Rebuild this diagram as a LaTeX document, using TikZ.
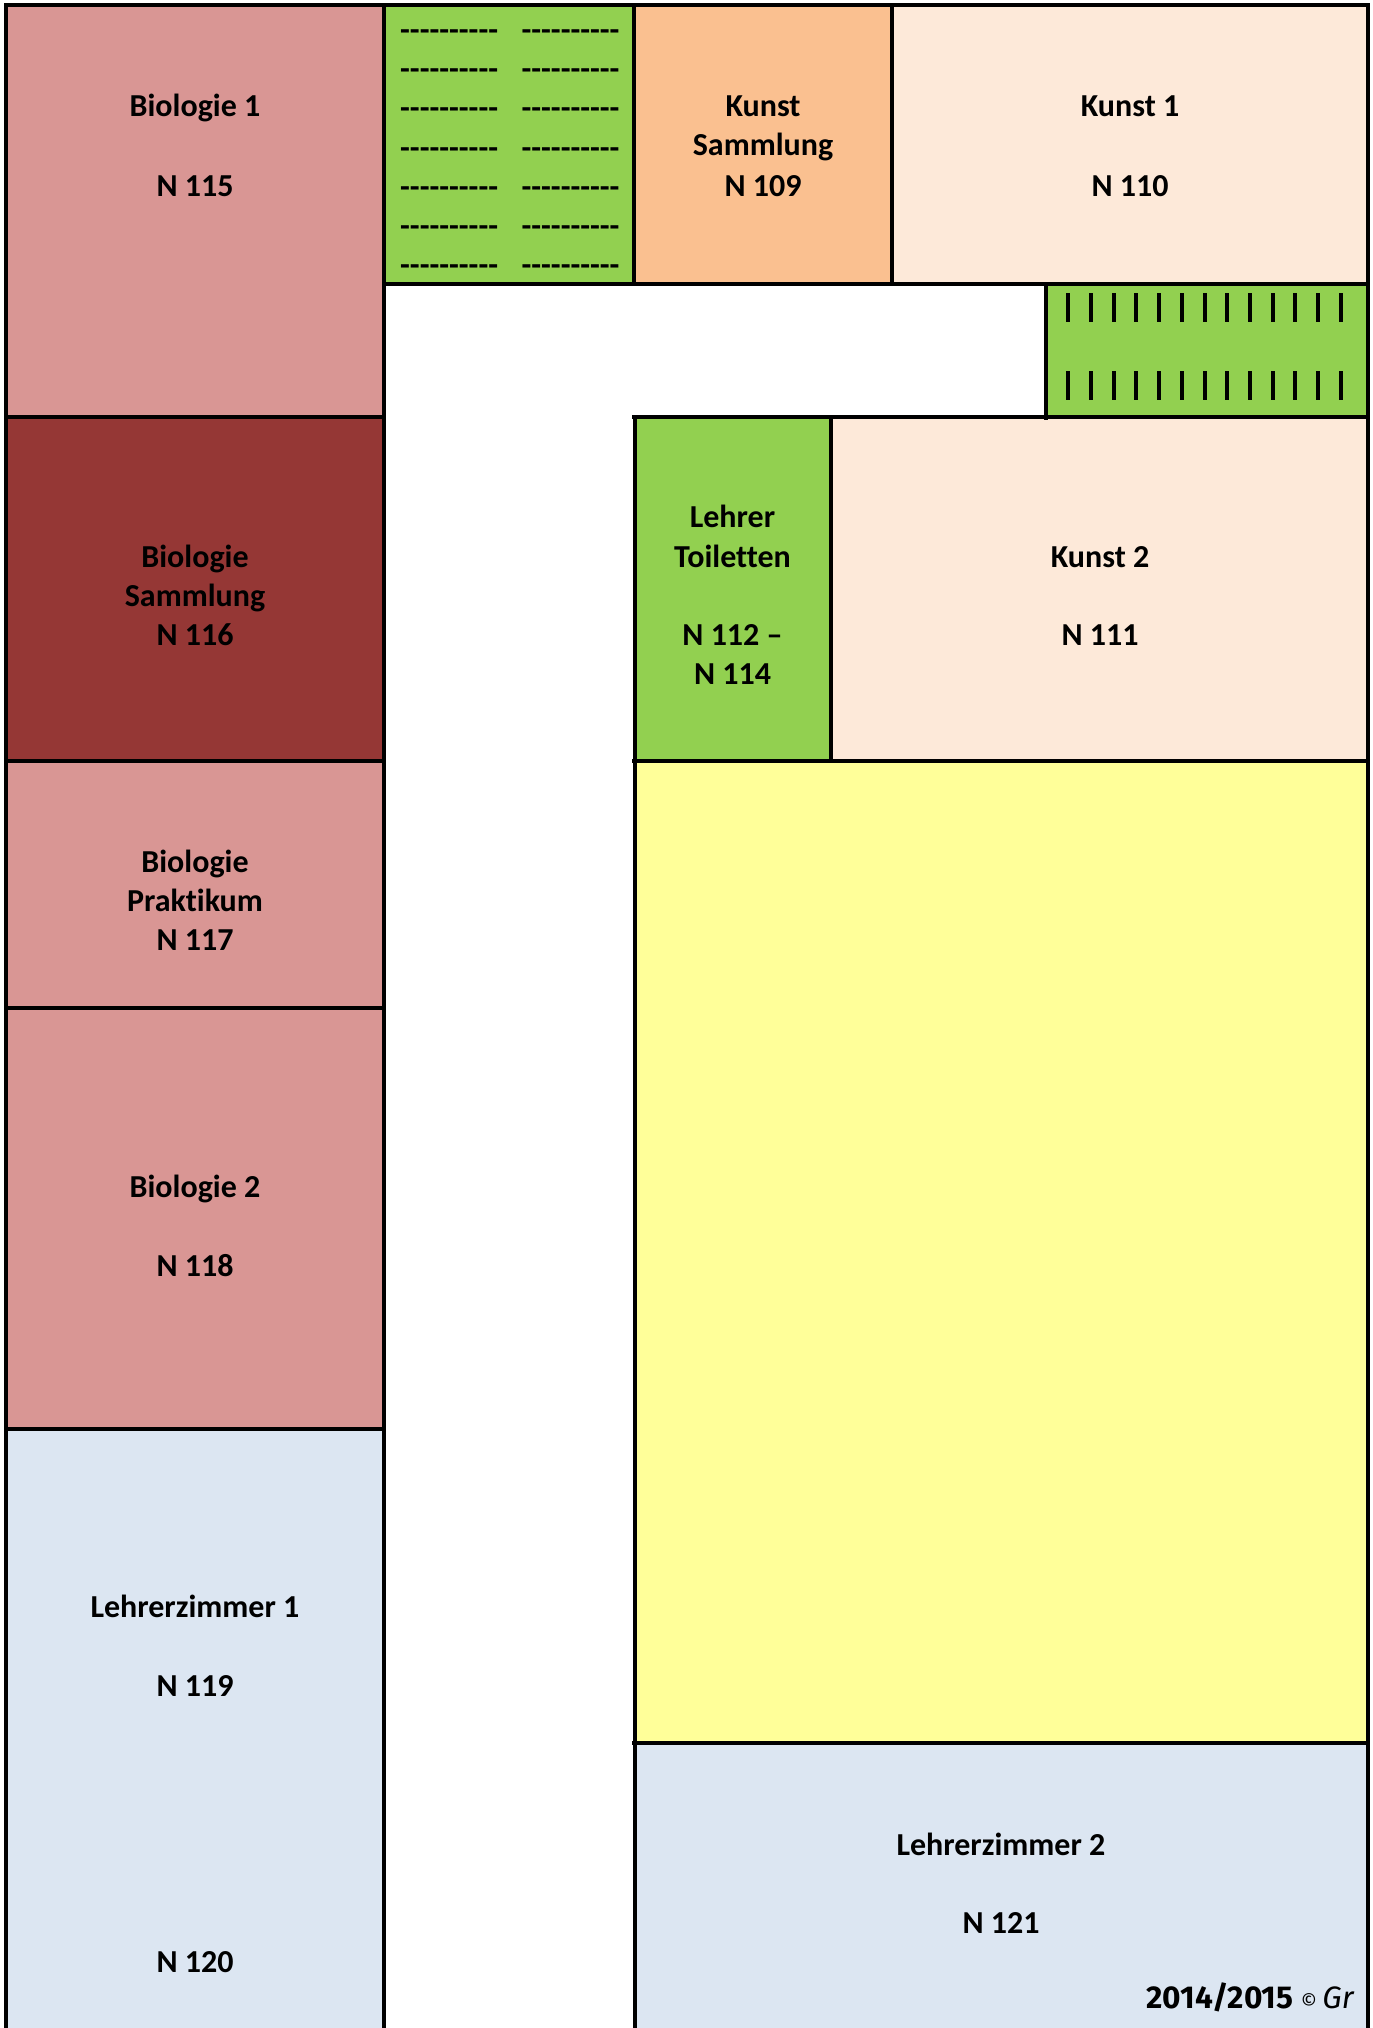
\documentclass[tikz,border=0pt]{standalone}
\usepackage{fontspec}
\setmainfont{Carlito}[Ligatures={NoCommon}]
\newfontfamily\footfont{Fira Sans}
\definecolor{bio}{HTML}{D99694}
\definecolor{biodark}{HTML}{953735}
\definecolor{wc}{HTML}{92D050}
\definecolor{orangeroom}{HTML}{FAC090}
\definecolor{peach}{HTML}{FDE9D9}
\definecolor{yel}{HTML}{FFFF99}
\definecolor{blueroom}{HTML}{DCE6F2}
\newcommand{\hyphenrow}{-{}-{}-{}-{}-{}-{}-{}-{}-{}-}
\tikzset{
  lab/.style={anchor=base,inner sep=0pt,font=\fontsize{16}{19.5}\selectfont\bfseries,text=black},
  dashrow/.style={anchor=base west,inner sep=0pt,font=\fontsize{16}{19.5}\selectfont\bfseries,text=black},
  tick/.style={draw=black,line width=2pt},
}
\begin{document}
\begin{tikzpicture}[x=0.5pt,y=-0.5pt]
\useasboundingbox (0,0) rectangle (1372,2028);
% rooms
\fill[bio] (6,5.5) rectangle (384,416.5);
\fill[biodark] (6,416.5) rectangle (384,761);
\fill[bio] (6,761) rectangle (384,1428.5);
\fill[blueroom] (6,1428.5) rectangle (384,2028);
\fill[wc] (384,5.5) rectangle (634,284);
\fill[orangeroom] (634,5.5) rectangle (892,284);
\fill[peach] (892,5.5) rectangle (1368,284);
\fill[wc] (1046,284) rectangle (1368,416.5);
\fill[wc] (634,416.5) rectangle (831,761);
\fill[peach] (831,416.5) rectangle (1368,761);
\fill[yel] (634,761) rectangle (1368,1743);
\fill[blueroom] (634,1743) rectangle (1368,2028);
% walls
\begin{scope}[line width=2pt,line cap=rect]
\draw (6,2028) -- (6,5.5) -- (1368,5.5) -- (1368,2028);
\draw (384,5.5) -- (384,2028);
\draw (634,5.5) -- (634,284);
\draw (892,5.5) -- (892,284);
\draw (384,284) -- (1368,284);
\draw (1046,284) -- (1046,418);
\draw (634.5,416.5) -- (634.5,2028);
\draw (6,416.5) -- (384,416.5);
\draw (634,416.5) -- (1368,416.5);
\draw (831,416.5) -- (831,761);
\draw (6,761) -- (384,761);
\draw (634,761) -- (1368,761);
\draw (6,1008) -- (384,1008);
\draw (6,1428.5) -- (384,1428.5);
\draw (634,1743) -- (1368,1743);
\end{scope}
% hatch rows in the upper green room
\foreach \i/\y in {1/40.3,2/79.3,3/118.3,4/158.3,5/197.3,6/236.3,7/275.3}{
  \node[dashrow] (dl\i) at (399.8,\y) {\hyphenrow};
  \node[dashrow] (dr\i) at (521.2,\y) {\hyphenrow};
}
% ticks in the right green room
\foreach \i in {0,...,12}{
  \draw[tick] ({1068.3+22.7*\i},293.3) -- ({1068.3+22.7*\i},322);
  \draw[tick] ({1068.3+22.7*\i},371.3) -- ({1068.3+22.7*\i},400);
}
% labels
\node[lab] (b1a) at (195,117) {Biologie 1};
\node[lab] (b1b) at (195,196.5) {N 115};
\node[lab] (ks1) at (763,117) {Kunst};
\node[lab] (ks2) at (763,156) {Sammlung};
\node[lab] (ks3) at (763,196.5) {N 109};
\node[lab] (k1a) at (1130,117) {Kunst 1};
\node[lab] (k1b) at (1130,196.5) {N 110};
\node[lab] (k2a) at (1100,567) {Kunst 2};
\node[lab] (k2b) at (1100,645.5) {N 111};
\node[lab] (t1) at (732.5,527) {Lehrer};
\node[lab] (t2) at (732.5,567) {Toiletten};
\node[lab] (t3) at (732.5,645) {N 112 –};
\node[lab] (t4) at (732.5,684) {N 114};
\node[lab] (bs1) at (195,567) {Biologie};
\node[lab] (bs2) at (195,606.5) {Sammlung};
\node[lab] (bs3) at (195,645.5) {N 116};
\node[lab] (bp1) at (195,872) {Biologie};
\node[lab] (bp2) at (195,911) {Praktikum};
\node[lab] (bp3) at (195,950) {N 117};
\node[lab] (b2a) at (195,1197) {Biologie 2};
\node[lab] (b2b) at (195,1276) {N 118};
\node[lab] (l1a) at (195,1617.5) {Lehrerzimmer 1};
\node[lab] (l1b) at (195,1696) {N 119};
\node[lab] (l0) at (195,1972) {N 120};
\node[lab] (l2a) at (1001,1855) {Lehrerzimmer 2};
\node[lab] (l2b) at (1001,1933) {N 121};
\node[anchor=base east,inner sep=0pt,font=\footfont] (foot) at (1354,2008)
  {\fontsize{15.8}{16}\selectfont\bfseries 2014/2015 \fontsize{10}{10}\selectfont\mdseries © \fontsize{15.5}{14}\selectfont\itshape Gr};
\end{tikzpicture}
\end{document}
